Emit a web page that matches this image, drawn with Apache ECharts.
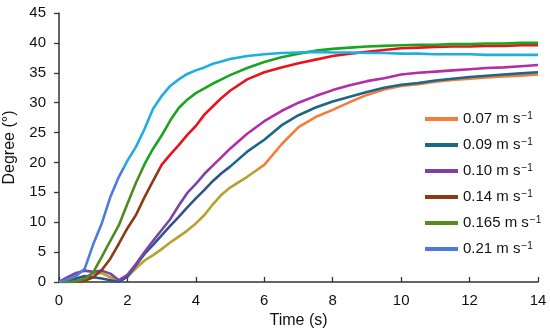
<!DOCTYPE html>
<html>
<head>
<meta charset="utf-8">
<script src="https://cdn.jsdelivr.net/npm/echarts@6/dist/echarts.min.js"></script>
<style>html,body{margin:0;padding:0;background:#fff}#c{width:550px;height:336px}</style>
</head>
<body>
<div id="c"></div>
<script>
const time = [0,0.25,0.5,0.75,1,1.25,1.5,1.75,2,2.25,2.5,2.75,3,3.25,3.5,3.75,4,4.25,4.5,4.75,5,
  5.5,6,6.5,7,7.5,8,8.5,9,9.5,10,10.5,11,11.5,12,12.5,13,13.5,14];
const speeds = ['0.07','0.09','0.10','0.14','0.165','0.21'];
const v007 = [0,0,0.2,0.8,1.4,1.5,0.8,0.1,0.9,2.3,3.6,4.5,5.5,6.6,7.6,8.6,9.8,11.2,13.0,14.6,15.8,
  17.6,19.6,23.0,25.9,27.6,28.8,30.1,31.3,32.2,32.8,33.1,33.5,33.8,34.0,34.2,34.4,34.5,34.7];
const v009 = [0,0.2,0.6,1.0,0.8,0.6,0.3,0,0.9,2.8,4.7,6.2,7.8,9.4,10.9,12.5,14.0,15.4,16.9,18.2,19.3,
  21.8,23.8,26.2,27.9,29.2,30.2,31.0,31.8,32.5,33.0,33.3,33.7,34.0,34.3,34.5,34.7,34.9,35.1];
const v010 = [0,0.8,1.5,1.9,1.7,1.9,1.4,0.3,1.2,3.0,5.0,6.9,8.7,10.5,12.8,14.9,16.4,18.1,19.5,20.9,22.3,
  24.8,26.9,28.6,30.0,31.1,32.1,32.9,33.6,34.1,34.7,35.0,35.2,35.4,35.6,35.8,35.9,36.1,36.3];
const v014 = [0,0,0,0.2,0.8,2.0,3.9,6.4,9.0,11.2,14.2,16.9,19.6,21.3,22.9,24.6,26.1,28.0,29.4,30.8,32.0,
  33.9,35.1,35.9,36.6,37.2,37.8,38.2,38.5,38.8,39.1,39.2,39.3,39.4,39.4,39.5,39.5,39.6,39.6];
const v0165 = [0,0,0.1,0.5,1.6,4.2,6.9,9.5,13.1,16.6,19.7,22.3,24.5,27.0,29.1,30.5,31.6,32.4,33.2,33.9,34.6,
  35.8,36.8,37.6,38.2,38.7,39.0,39.2,39.4,39.5,39.6,39.7,39.7,39.8,39.8,39.9,39.9,40.0,40.0];
const v021 = [0,0.4,1.0,2.2,6.3,9.8,14.2,17.6,20.3,22.6,25.6,29.0,31.1,32.8,33.9,34.8,35.4,35.9,36.5,36.9,37.3,
  37.8,38.1,38.3,38.4,38.5,38.4,38.4,38.3,38.3,38.2,38.2,38.1,38.1,38.1,38.0,38.0,38.0,38.0];
const xTicks = [0,2,4,6,8,10,12,14];
const yTicks = [0,5,10,15,20,25,30,35,40,45];

const values = [v007,v009,v010,v014,v0165,v021];
const bright = ['#f67c3c','#1c6687','#b02fa6','#e8141c','#1ba51f','#1eaee0'];
const dark   = ['#b5a22f','#34518f','#7a45a6','#8c3a16','#4f8a1f','#4d7bd9'];
const legendColors = ['#f67c3c','#1c6687','#7e41a6','#8c3a16','#568c20','#4d7bd9'];
const split = 19;

function strokeFor(i){
  const vals = values[i];
  const mx = Math.max.apply(null, vals), mn = Math.min.apply(null, vals);
  const o = Math.min(1, Math.max(0, (mx - split) / (mx - mn)));
  return new echarts.graphic.LinearGradient(0, 0, 0, 1, [
    {offset: 0, color: bright[i]}, {offset: o, color: bright[i]},
    {offset: o, color: dark[i]}, {offset: 1, color: dark[i]}
  ]);
}

const chart = echarts.init(document.getElementById('c'));
const series = speeds.map((s,i)=>({
  name: s,
  type: 'line',
  showSymbol: false,
  symbol: 'none',
  itemStyle: {color: legendColors[i]},
  data: time.map((t,k)=>[t, values[i][k]]),
  lineStyle: {width: 2.6, color: strokeFor(i)},
  z: 2 + i
}));
chart.setOption({
  animation: false,
  backgroundColor: '#fff',
  grid: {left: 59, right: 12, top: 13, bottom: 54, containLabel: false, outerBoundsMode: 'none'},
  textStyle: {fontFamily: 'Liberation Sans, Arial, sans-serif'},
  legend: {
    orient: 'vertical', left: 425, top: 111, padding: 0,
    itemWidth: 33, itemHeight: 4, itemGap: 10,
    icon: 'rect',
    data: speeds.map((s,i)=>({name: s, itemStyle: {color: legendColors[i]}})),
    formatter: n => '{a|' + n + ' m s}{b|\u22121}',
    textStyle: {
      color: '#111', fontSize: 15, lineHeight: 16,
      rich: {
        a: {fontSize: 15, color: '#111', fontFamily: 'Liberation Sans'},
        b: {fontSize: 10, color: '#111', verticalAlign: 'top', padding: [0,0,6,1], fontFamily: 'Liberation Sans'}
      }
    }
  },
  xAxis: {
    type: 'value', min: xTicks[0], max: xTicks[xTicks.length-1], interval: 2,
    name: 'Time (s)', nameLocation: 'middle', nameGap: 29,
    nameTextStyle: {fontSize: 16, color: '#111', fontFamily: 'Liberation Sans'},
    axisLine: {lineStyle: {color: '#333', width: 1.5}},
    axisTick: {show: true, inside: true, length: 5, lineStyle: {color: '#333', width: 1.3}},
    axisLabel: {fontSize: 15, color: '#111', margin: 11, fontFamily: 'Liberation Sans'},
    splitLine: {show: false}
  },
  yAxis: {
    type: 'value', min: yTicks[0], max: yTicks[yTicks.length-1], interval: 5,
    name: 'Degree (\u00b0)', nameLocation: 'middle', nameGap: 41,
    nameTextStyle: {fontSize: 16, color: '#111', fontFamily: 'Liberation Sans'},
    axisLine: {show: true, lineStyle: {color: '#333', width: 1.5}},
    axisTick: {show: true, inside: false, length: 5, lineStyle: {color: '#333', width: 1.3}},
    axisLabel: {fontSize: 15, color: '#111', margin: 13, fontFamily: 'Liberation Sans'},
    splitLine: {show: false}
  },
  series: series
});
</script>
</body>
</html>
